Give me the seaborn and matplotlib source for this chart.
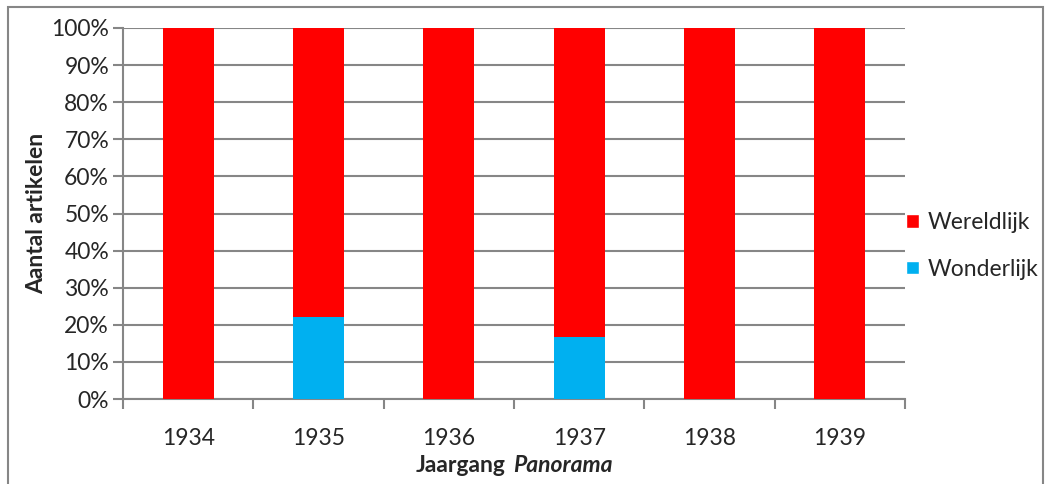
import pandas as pd
import seaborn as sns
import matplotlib.pyplot as plt
from matplotlib.patches import Patch, Rectangle
from matplotlib.offsetbox import TextArea, HPacker, AnchoredOffsetbox

# Data (percentages)
years = ['1934', '1935', '1936', '1937', '1938', '1939']
wonderlijk = [0, 22.2, 0, 16.7, 0, 0]
wereldlijk = [100, 77.8, 100, 83.3, 100, 100]

df = pd.DataFrame({'jaar': years, 'Wonderlijk': wonderlijk, 'Wereldlijk': wereldlijk})
df['totaal'] = df['Wonderlijk'] + df['Wereldlijk']

red = '#ff0000'
blue = '#00b0f0'
grey = '#868686'
fs = 16.5

sns.set_style('white')
plt.rcParams['font.family'] = ['Lato', 'DejaVu Sans']

fig = plt.figure(figsize=(10.49, 4.84), dpi=100)
ax = fig.add_axes([123 / 1049, 1 - 399 / 484, (905 - 123) / 1049, (399 - 28) / 484])

# Stacked bars: total in red, Wonderlijk part in blue on top of it
sns.barplot(data=df, x='jaar', y='totaal', color=red, width=0.39, saturation=1, ax=ax, zorder=3)
sns.barplot(data=df, x='jaar', y='Wonderlijk', color=blue, width=0.39, saturation=1, ax=ax, zorder=4)
for p in ax.patches:
    p.set_edgecolor('none')

ax.set_ylim(0, 100)
ax.set_xlim(-0.5, len(years) - 0.5)
ax.set_yticks(range(0, 101, 10))
ax.set_yticklabels([f'{v}%' for v in range(0, 101, 10)])
ax.yaxis.grid(True, color=grey, linewidth=1.5, zorder=0)
ax.set_axisbelow(True)

# category boundary ticks on the x axis
ax.set_xticks([i - 0.5 for i in range(len(years) + 1)], minor=False)
ax.set_xticklabels([])
ax.set_xticks(range(len(years)), minor=True)
ax.set_xticklabels(years, minor=True)
ax.tick_params(axis='x', which='major', length=7, width=1.5, color=grey, direction='out', bottom=True)
ax.tick_params(axis='x', which='minor', length=0, labelsize=fs, pad=21)
ax.tick_params(axis='y', length=7, width=1.5, color=grey, direction='out', left=True, labelsize=fs, pad=3)

for side in ['top', 'right']:
    ax.spines[side].set_visible(False)
for side in ['left', 'bottom']:
    ax.spines[side].set_color(grey)
    ax.spines[side].set_linewidth(1.5)

ax.set_xlabel('')
ax.set_ylabel('Aantal artikelen', fontsize=fs, fontweight='bold', labelpad=3)

# x label: bold "Jaargang" + bold italic "Panorama"
lab = HPacker(children=[TextArea('Jaargang', textprops=dict(fontsize=fs, fontweight='bold')),
                        TextArea('Panorama', textprops=dict(fontsize=fs, fontweight='bold', style='italic'))],
              align='baseline', pad=0, sep=5)
box = AnchoredOffsetbox(loc='center', child=lab, frameon=False, pad=0,
                        bbox_to_anchor=(514 / 1049, 1 - 466 / 484), bbox_transform=fig.transFigure)
fig.add_artist(box)

handles = [Patch(facecolor=red, label='Wereldlijk'), Patch(facecolor=blue, label='Wonderlijk')]
fig.legend(handles=handles, loc='center left', bbox_to_anchor=(906 / 1049, 1 - 246 / 484),
           frameon=False, fontsize=fs, handlelength=0.55, handleheight=0.55,
           handletextpad=0.4, labelspacing=1.1, borderpad=0, borderaxespad=0)

# outer border of the chart area
fig.patches.append(Rectangle((8 / 1049, -0.01), (1043 - 8) / 1049, 1 - 7 / 484 + 0.01,
                             transform=fig.transFigure, fill=False, edgecolor=grey, linewidth=1.5))

plt.savefig('out.png', dpi=100)
